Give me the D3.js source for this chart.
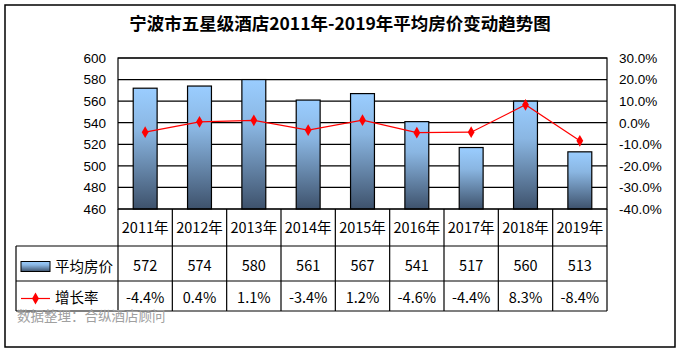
<!DOCTYPE html>
<html>
<head>
<meta charset="utf-8">
<script src="https://cdn.jsdelivr.net/npm/d3@7"></script>
<style>
  body { margin: 0; background: #fff; }
  svg { display: block; }
</style>
</head>
<body>
<div id="chart"></div>
<script>
const years = ["2011年", "2012年", "2013年", "2014年", "2015年", "2016年", "2017年", "2018年", "2019年"];
const prices = [572, 574, 580, 561, 567, 541, 517, 560, 513];
const growth = [-4.4, 0.4, 1.1, -3.4, 1.2, -4.6, -4.4, 8.3, -8.4];
const leftTicks = [460, 480, 500, 520, 540, 560, 580, 600];
const rightTicks = [-40, -30, -20, -10, 0, 10, 20, 30];

const width = 682, height = 354;
const plot = { left: 118, right: 607, top: 58, bottom: 209 };
const tableLeft = 16;
const rowLines = [246, 281, 311]; // horizontal lines of the data table

const cjk = "'Microsoft YaHei', 'Noto Sans CJK SC', sans-serif";
const arial = "Arial, 'Liberation Sans', sans-serif";

const svg = d3.select("#chart")
  .append("svg")
  .attr("width", width)
  .attr("height", height);

const defs = svg.append("defs");
const grad = defs.append("linearGradient")
  .attr("id", "barGrad")
  .attr("x1", 0).attr("y1", 0).attr("x2", 0).attr("y2", 1);
grad.append("stop").attr("offset", "0%").attr("stop-color", "#9acdff");
grad.append("stop").attr("offset", "35%").attr("stop-color", "#8ab6e2");
grad.append("stop").attr("offset", "100%").attr("stop-color", "#3e526c");

// outer frame
svg.append("rect")
  .attr("x", 5).attr("y", 5)
  .attr("width", 670).attr("height", 342)
  .attr("fill", "none")
  .attr("stroke", "#000")
  .attr("stroke-width", 1.5);

// title
svg.append("text")
  .attr("x", 340)
  .attr("y", 30)
  .attr("text-anchor", "middle")
  .style("font-family", "'Noto Sans CJK SC', sans-serif")
  .style("font-weight", "bold")
  .style("font-size", "17.5px")
  .text("宁波市五星级酒店2011年-2019年平均房价变动趋势图");

const x = d3.scaleBand()
  .domain(years)
  .range([plot.left, plot.right])
  .padding(0);

const y = d3.scaleLinear()
  .domain([460, 600])
  .range([plot.bottom, plot.top]);

const y2 = d3.scaleLinear()
  .domain([-40, 30])
  .range([plot.bottom, plot.top]);

// gridlines
svg.append("g")
  .selectAll("line")
  .data(leftTicks)
  .join("line")
  .attr("x1", plot.left)
  .attr("x2", plot.right)
  .attr("y1", d => y(d))
  .attr("y2", d => y(d))
  .attr("stroke", "#000")
  .attr("stroke-width", 1.2);

// left axis
const leftAxis = svg.append("g")
  .attr("transform", `translate(${plot.left}, 0)`)
  .call(d3.axisLeft(y).tickValues(leftTicks).tickSize(0).tickPadding(12));
leftAxis.select(".domain").remove();
leftAxis.selectAll("text")
  .style("font-family", arial)
  .style("font-size", "13.5px")
  .attr("fill", "#000");

// right axis
const rightAxis = svg.append("g")
  .attr("transform", `translate(${plot.right}, 0)`)
  .call(d3.axisRight(y2).tickValues(rightTicks).tickSize(0).tickPadding(12)
    .tickFormat(d => d.toFixed(1) + "%"));
rightAxis.select(".domain").remove();
rightAxis.selectAll("text")
  .style("font-family", arial)
  .style("font-size", "13.5px")
  .attr("fill", "#000");

// bars
const barW = x.bandwidth() * 0.44;
svg.append("g")
  .selectAll("rect")
  .data(prices)
  .join("rect")
  .attr("x", (d, i) => x(years[i]) + (x.bandwidth() - barW) / 2)
  .attr("y", d => y(d))
  .attr("width", barW)
  .attr("height", d => y(460) - y(d))
  .attr("fill", "url(#barGrad)")
  .attr("stroke", "#000")
  .attr("stroke-width", 1.2);

// plot frame
svg.append("rect")
  .attr("x", plot.left).attr("y", plot.top)
  .attr("width", plot.right - plot.left)
  .attr("height", plot.bottom - plot.top)
  .attr("fill", "none")
  .attr("stroke", "#000")
  .attr("stroke-width", 1.2);

// growth line
const cx = (d, i) => x(years[i]) + x.bandwidth() / 2;
const line = d3.line()
  .x(cx)
  .y(d => y2(d));

svg.append("path")
  .datum(growth)
  .attr("d", line)
  .attr("fill", "none")
  .attr("stroke", "#ff0000")
  .attr("stroke-width", 1.2);

const diamond = d3.symbol().type(d3.symbolDiamond).size(40);
svg.append("g")
  .selectAll("path")
  .data(growth)
  .join("path")
  .attr("transform", (d, i) => `translate(${cx(d, i)}, ${y2(d)})`)
  .attr("d", diamond)
  .attr("fill", "#ff0000");

// data table
const table = svg.append("g");

table.selectAll("line.h")
  .data(rowLines)
  .join("line")
  .attr("class", "h")
  .attr("x1", tableLeft)
  .attr("x2", plot.right)
  .attr("y1", d => d)
  .attr("y2", d => d)
  .attr("stroke", "#000")
  .attr("stroke-width", 1.2);

table.selectAll("line.v")
  .data(years.map(d => x(d)).concat([plot.right]))
  .join("line")
  .attr("class", "v")
  .attr("x1", d => d)
  .attr("x2", d => d)
  .attr("y1", plot.bottom)
  .attr("y2", rowLines[2])
  .attr("stroke", "#000")
  .attr("stroke-width", 1.2);

table.append("line")
  .attr("x1", tableLeft).attr("x2", tableLeft)
  .attr("y1", rowLines[0]).attr("y2", rowLines[2])
  .attr("stroke", "#000")
  .attr("stroke-width", 1.2);

const cellText = (sel) => sel
  .attr("text-anchor", "middle")
  .attr("dominant-baseline", "central")
  .style("font-family", cjk)
  .style("font-size", "14.5px")
  .attr("fill", "#000");

table.selectAll("text.year")
  .data(years)
  .join("text")
  .attr("class", "year")
  .attr("x", d => x(d) + x.bandwidth() / 2)
  .attr("y", 226)
  .text(d => d)
  .call(cellText);

table.selectAll("text.price")
  .data(prices)
  .join("text")
  .attr("class", "price")
  .attr("x", (d, i) => cx(d, i))
  .attr("y", 264)
  .text(d => d)
  .call(cellText);

table.selectAll("text.growth")
  .data(growth)
  .join("text")
  .attr("class", "growth")
  .attr("x", (d, i) => cx(d, i))
  .attr("y", 296.5)
  .text(d => d.toFixed(1) + "%")
  .call(cellText);

// legend keys inside table
table.append("rect")
  .attr("x", 21).attr("y", 261.5)
  .attr("width", 29).attr("height", 10)
  .attr("fill", "url(#barGrad)")
  .attr("stroke", "#000")
  .attr("stroke-width", 1);

table.append("text")
  .attr("x", 55).attr("y", 265)
  .attr("dominant-baseline", "central")
  .style("font-family", cjk)
  .style("font-size", "14.5px")
  .text("平均房价");

table.append("line")
  .attr("x1", 21).attr("x2", 50)
  .attr("y1", 298.5).attr("y2", 298.5)
  .attr("stroke", "#ff0000")
  .attr("stroke-width", 1.2);

table.append("path")
  .attr("transform", "translate(35.5, 298.5)")
  .attr("d", diamond)
  .attr("fill", "#ff0000");

table.append("text")
  .attr("x", 55).attr("y", 296.5)
  .attr("dominant-baseline", "central")
  .style("font-family", cjk)
  .style("font-size", "14.5px")
  .text("增长率");

// source note
svg.append("text")
  .attr("x", 17).attr("y", 314.5)
  .attr("dominant-baseline", "central")
  .style("font-family", cjk)
  .style("font-size", "13.5px")
  .attr("fill", "#a0a0a0")
  .text("数据整理：合纵酒店顾问");
</script>
</body>
</html>
